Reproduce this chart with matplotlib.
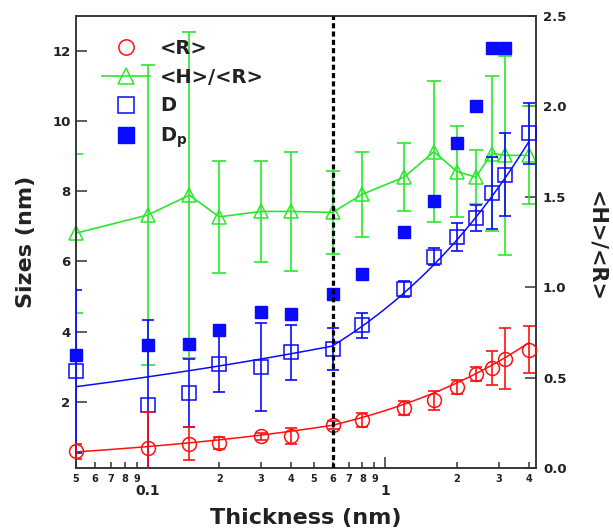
import numpy as np
import matplotlib
matplotlib.use("Agg")
import matplotlib.pyplot as plt
from matplotlib.ticker import FixedLocator, FixedFormatter
from matplotlib.lines import Line2D

plt.rcParams['font.family'] = ['DejaVu Sans']
plt.rcParams['font.weight'] = 'bold'
plt.rcParams['mathtext.default'] = 'bf'

# Film thickness (nm)
thickness = [0.05, 0.1, 0.15, 0.2, 0.3, 0.4, 0.6, 0.8, 1.2, 1.6, 2.0, 2.4, 2.8, 3.2, 4.0]

# Mean island radius <R> (nm)
radius = [0.59, 0.69, 0.81, 0.82, 1.01, 1.02, 1.33, 1.49, 1.82, 2.04, 2.41, 2.79, 2.97, 3.23, 3.49]
radius_err = [0.21, 1.01, 0.46, 0.18, 0.10, 0.22, 0.12, 0.20, 0.19, 0.27, 0.20, 0.21, 0.49, 0.88, 0.68]

# Island spacing D (nm)
spacing = [2.87, 1.92, 2.24, 3.09, 2.99, 3.41, 3.51, 4.18, 5.22, 6.14, 6.70, 7.25, 7.96, 8.47, 9.66]
spacing_err = [2.33, 2.40, 0.97, 0.80, 1.25, 0.79, 0.60, 0.35, 0.22, 0.25, 0.40, 0.37, 1.02, 1.18, 0.87]

# Peak spacing Dp (nm), no value for the thickest film
spacing_peak = [3.32, 3.63, 3.64, 4.04, 4.56, 4.49, 5.08, 5.63, 6.83, 7.72, 9.37, 10.42, 12.08, 12.08]

# Aspect ratio <H>/<R>
aspect = [1.30, 1.40, 1.51, 1.39, 1.42, 1.42, 1.415, 1.515, 1.61, 1.75, 1.64, 1.61, 1.74, 1.73, 1.73]
aspect_err = [0.44, 0.83, 0.90, 0.31, 0.28, 0.33, 0.23, 0.235, 0.19, 0.39, 0.25, 0.15, 0.43, 0.55, 0.27]

# Power-law fits y = a * t**b, one per growth regime (x_start, x_end, a, b)
radius_fit = [(0.05, 0.6, 1.583, 0.341), (0.6, 4.0, 1.751, 0.536)]
spacing_fit = [(0.05, 0.6, 3.889, 0.157), (0.6, 4.0, 4.656, 0.507)]

transition = 0.6

RED = '#FF1010'
BLUE = '#0A0AFF'
GREEN = '#2BE82B'
INK = '#222222'

fig = plt.figure(figsize=(6.13, 5.31), dpi=100)
ax = fig.add_axes([76 / 613, 1 - 468.4 / 531, 460 / 613, 452.4 / 531])
ax2 = ax.twinx()
ax.set_zorder(ax2.get_zorder() + 1)
ax.patch.set_visible(False)

# aspect ratio on the right axis
ax2.errorbar(thickness, aspect, yerr=aspect_err, fmt='none', ecolor=GREEN,
             capsize=5, capthick=1.2, elinewidth=1.2)
ax2.plot(thickness, aspect, color=GREEN, lw=1.2, marker='^', ms=9.5,
         mfc='none', mec=GREEN, mew=1.1, clip_on=False)

# fitted curves
for segs, col in ((spacing_fit, BLUE), (radius_fit, RED)):
    for x0, x1, a, b in segs:
        t = np.geomspace(x0, x1, 200)
        ax.plot(t, a * t ** b, color=col, lw=1.1, zorder=2)

ax.errorbar(thickness, spacing, yerr=spacing_err, fmt='none', ecolor=BLUE,
            capsize=4.5, capthick=1.2, elinewidth=1.2, zorder=3)
ax.plot(thickness, spacing, ls='none', marker='s', ms=10, mfc='none',
        mec=BLUE, mew=1.1, zorder=3, clip_on=False)
ax.errorbar(thickness, radius, yerr=radius_err, fmt='none', ecolor=RED,
            capsize=4.5, capthick=1.2, elinewidth=1.2, zorder=4)
ax.plot(thickness, radius, ls='none', marker='o', ms=10, mfc='none',
        mec=RED, mew=1.1, zorder=4, clip_on=False)
ax.plot(thickness[:len(spacing_peak)], spacing_peak, ls='none', marker='s',
        ms=8.5, color=BLUE, mec=BLUE, zorder=5, clip_on=False)

ax.axvline(transition, color='black', lw=2.3, ls=(0, (1.6, 1.0)), zorder=6)

ax.set_xscale('log')
ax.set_xlim(0.05, 4.3)
ax.set_ylim(0.1, 13.0)
ax2.set_ylim(0, 2.5)

# x ticks: decades labelled large and low, intermediate values small
ax.xaxis.set_major_locator(FixedLocator([0.1, 1]))
ax.xaxis.set_major_formatter(FixedFormatter(['0.1', '1']))
minor_pos = [0.05, 0.06, 0.07, 0.08, 0.09, 0.2, 0.3, 0.4, 0.5, 0.6, 0.7, 0.8, 0.9, 2, 3, 4]
minor_lab = ['5', '6', '7', '8', '9', '2', '3', '4', '5', '6', '7', '8', '9', '2', '3', '4']
ax.xaxis.set_minor_locator(FixedLocator(minor_pos))
ax.xaxis.set_minor_formatter(FixedFormatter(minor_lab))
ax.tick_params(axis='x', which='major', direction='in', length=8, width=1.1,
               color='#333333', labelsize=10, pad=11, labelcolor=INK)
ax.tick_params(axis='x', which='minor', direction='in', length=4, width=1.1,
               color='#333333', labelsize=7, pad=4, labelcolor=INK)

ax.set_yticks([2, 4, 6, 8, 10, 12])
ax.tick_params(axis='y', direction='in', length=8, width=1.1, color='#333333',
               labelsize=9.5, pad=4, labelcolor=INK)
ax2.set_yticks([0.0, 0.5, 1.0, 1.5, 2.0, 2.5])
ax2.set_yticklabels(['0.0', '0.5', '1.0', '1.5', '2.0', '2.5'])
ax2.tick_params(axis='y', direction='in', length=8, width=1.1, color='#333333',
                labelsize=9.5, pad=5, labelcolor=INK)

for a_ in (ax, ax2):
    for s in a_.spines.values():
        s.set_linewidth(1.1)
        s.set_color('#333333')

ax.set_xlabel('Thickness (nm)', fontsize=16, fontweight='bold', color=INK)
ax.xaxis.set_label_coords(0.5, -0.087)
ax.set_ylabel('Sizes (nm)', fontsize=16, fontweight='bold', color=INK)
ax.yaxis.set_label_coords(-0.088, 0.5)
ax2.set_ylabel('<H>/<R>', fontsize=15, fontweight='bold', color=INK, rotation=-90)
ax2.yaxis.set_label_coords(1.152, 0.49)

handles = [
    Line2D([], [], ls='none', marker='o', ms=11, mfc='none', mec=RED, mew=1.1),
    Line2D([], [], color=GREEN, lw=1.2, marker='^', ms=11, mfc='none', mec=GREEN, mew=1.1),
    Line2D([], [], ls='none', marker='s', ms=11, mfc='none', mec=BLUE, mew=1.1),
    Line2D([], [], ls='none', marker='s', ms=11, color=BLUE),
]
labels = ['<R>', '<H>/<R>', 'D', r'D$_\mathbf{p}$']
leg = ax.legend(handles, labels, loc='upper left', frameon=False,
                bbox_to_anchor=(102 / 613, 1 - 39 / 531), bbox_transform=fig.transFigure,
                borderpad=0, borderaxespad=0, handlelength=2.45, handletextpad=0.55,
                labelspacing=0.5, prop={'size': 14, 'weight': 'bold'})
for t in leg.get_texts():
    t.set_color(INK)

fig.savefig('out.png', dpi=100)
